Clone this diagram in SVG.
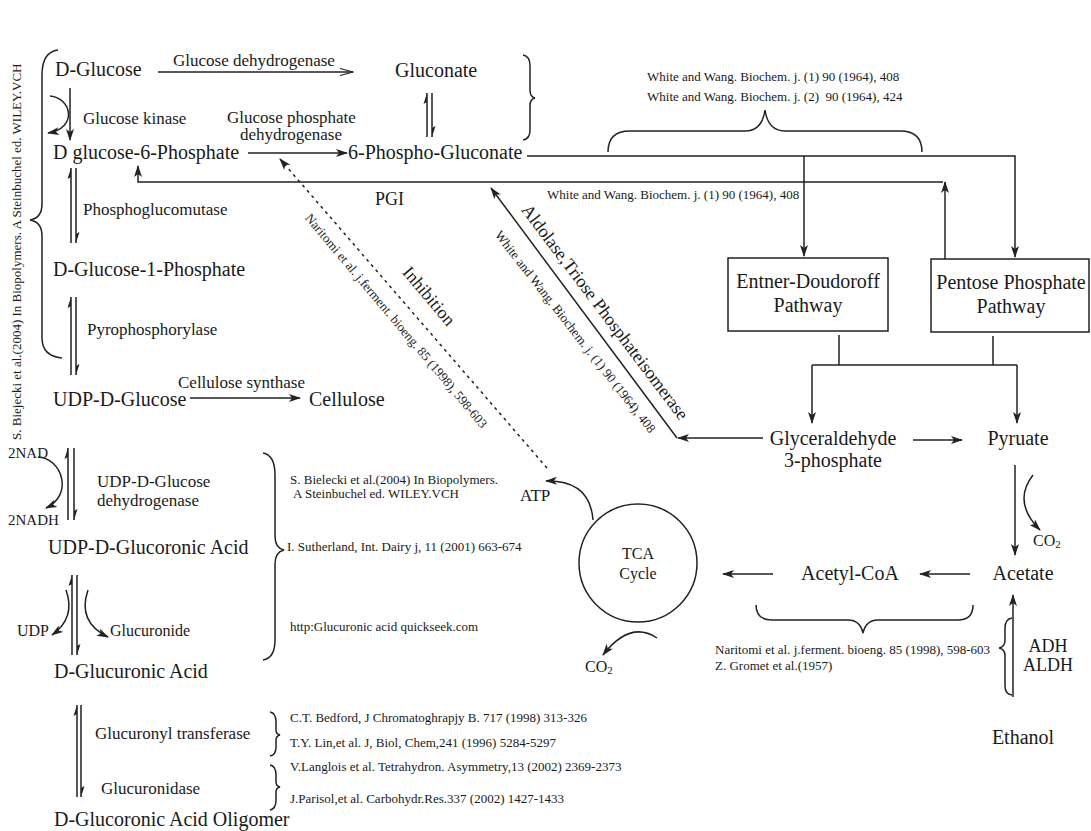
<svg xmlns="http://www.w3.org/2000/svg" width="1091" height="831" viewBox="0 0 1091 831">
<style>
.t{font-family:"Liberation Serif","Times New Roman",serif;fill:#1a1a1a}
.n{font-size:20px}
.l{font-size:17px}
.c{font-size:13px}
.m{text-anchor:middle}
.ln{stroke:#222;stroke-width:1.5;fill:none}
.hd{fill:#222;stroke:none}
</style>
<defs>
<marker id="ah" markerWidth="12" markerHeight="8" refX="11" refY="4" orient="auto" markerUnits="userSpaceOnUse"><path d="M0,0 L12,4 L0,8 L3,4 z" fill="#222"/></marker>
<marker id="oh" markerWidth="14" markerHeight="8" refX="13" refY="4" orient="auto" markerUnits="userSpaceOnUse"><path d="M0,0.5 L13,4 L0,7.5" fill="none" stroke="#222" stroke-width="1.2"/></marker>
</defs>
<rect width="1091" height="831" fill="#fff"/>

<g id="ref-left"><text class="t c" transform="translate(21,440) rotate(-90)">S. Biejecki et al.(2004) In Biopolymers. A Steinbuchel ed. WILEY.VCH</text></g>

<g id="n-dglucose"><text class="t n" x="55" y="76">D-Glucose</text></g>
<g id="n-gluconate"><text class="t n" x="395" y="77">Gluconate</text></g>
<g id="n-g6p"><text class="t n" x="53" y="159">D glucose-6-Phosphate</text></g>
<g id="n-6pg"><text class="t n" x="348" y="159">6-Phospho-Gluconate</text></g>
<g id="n-g1p"><text class="t n" x="53" y="276">D-Glucose-1-Phosphate</text></g>
<g id="n-udpg"><text class="t n" x="53" y="406">UDP-D-Glucose</text></g>
<g id="n-cellulose"><text class="t n" x="309" y="406">Cellulose</text></g>
<g id="n-udpga"><text class="t n" x="48" y="554">UDP-D-Glucoronic Acid</text></g>
<g id="n-dga"><text class="t n" x="54" y="678">D-Glucuronic Acid</text></g>
<g id="n-oligo"><text class="t n" x="54" y="826">D-Glucoronic Acid Oligomer</text></g>

<g id="n-ed"><rect x="728" y="258" width="160" height="73" class="ln"/><text class="t n m" x="808" y="288">Entner-Doudoroff</text><text class="t n m" x="808" y="312">Pathway</text></g>
<g id="n-ppp"><rect x="931" y="259" width="158" height="73" class="ln"/><text class="t n m" x="1011" y="289">Pentose Phosphate</text><text class="t n m" x="1011" y="313">Pathway</text></g>
<g id="n-gap"><text class="t n m" x="833" y="445">Glyceraldehyde</text><text class="t n m" x="833" y="467">3-phosphate</text></g>
<g id="n-pyr"><text class="t n m" x="1018" y="445">Pyruate</text></g>
<g id="n-acetate"><text class="t n m" x="1023" y="580">Acetate</text></g>
<g id="n-acoa"><text class="t n m" x="850" y="580">Acetyl-CoA</text></g>
<g id="n-ethanol"><text class="t n m" x="1023" y="744">Ethanol</text></g>
<g id="n-tca"><circle cx="638" cy="563" r="59" class="ln"/><text class="t m" style="font-size:16px" x="638" y="559">TCA</text><text class="t m" style="font-size:16px" x="638" y="579">Cycle</text></g>
<g id="n-atp"><text class="t" style="font-size:17px" x="520" y="501">ATP</text></g>
<g id="n-co2a"><text class="t" style="font-size:16px" x="585" y="672">CO<tspan style="font-size:11px" dy="2">2</tspan></text></g>
<g id="n-co2b"><text class="t" style="font-size:16px" x="1033" y="546">CO<tspan style="font-size:11px" dy="2">2</tspan></text></g>
<g id="n-nad"><text class="t" style="font-size:15px" x="8" y="458">2NAD</text><text class="t" style="font-size:15px" x="8" y="525">2NADH</text></g>
<g id="n-udp"><text class="t" style="font-size:16px" x="17" y="636">UDP</text><text class="t" style="font-size:16px" x="110" y="636">Glucuronide</text></g>

<g id="labels">
<text class="t l" x="173" y="66">Glucose dehydrogenase</text>
<text class="t l" x="83" y="124">Glucose kinase</text>
<text class="t l" x="227" y="123">Glucose phosphate</text>
<text class="t l" x="240" y="140">dehydrogenase</text>
<text class="t l" x="83" y="215">Phosphoglucomutase</text>
<text class="t l" x="87" y="335">Pyrophosphorylase</text>
<text class="t l" x="178" y="388">Cellulose synthase</text>
<text class="t" style="font-size:18px" x="375" y="205">PGI</text>
<text class="t l" x="97" y="487">UDP-D-Glucose</text>
<text class="t l" x="97" y="506">dehydrogenase</text>
<text class="t l" x="95" y="739">Glucuronyl transferase</text>
<text class="t l" x="101" y="794">Glucuronidase</text>
<text class="t m" style="font-size:18px" x="1048" y="652">ADH</text>
<text class="t m" style="font-size:18px" x="1048" y="671">ALDH</text>
<text class="t" style="font-size:18px" text-anchor="middle" transform="translate(429,296) rotate(50)" y="6">Inhibition</text>
<text class="t" style="font-size:18px" text-anchor="middle" transform="translate(605,312) rotate(53)" y="6">Aldolase,Triose Phosphateisomerase</text>
</g>

<g id="citations">
<text class="t c" x="647" y="81">White and Wang. Biochem. j. (1) 90 (1964), 408</text>
<text class="t c" x="647" y="101" style="white-space:pre">White and Wang. Biochem. j. (2)  90 (1964), 424</text>
<text class="t c" x="547" y="199">White and Wang. Biochem. j. (1) 90 (1964), 408</text>
<text class="t c" text-anchor="middle" transform="translate(396,321) rotate(50)" y="4">Naritomi et al. j.ferment. bioeng. 85 (1998), 598-603</text>
<text class="t c" text-anchor="middle" transform="translate(575,332) rotate(52)" y="4">White and Wang. Biochem. j. (1) 90 (1964), 408</text>
<text class="t c" x="290" y="484">S. Bielecki et al.(2004) In Biopolymers.</text>
<text class="t c" x="293" y="498">A Steinbuchel ed. WILEY.VCH</text>
<text class="t c" x="287" y="551">I. Sutherland, Int. Dairy j, 11 (2001) 663-674</text>
<text class="t c" x="290" y="631">http:Glucuronic acid quickseek.com</text>
<text class="t c" x="715" y="654">Naritomi et al. j.ferment. bioeng. 85 (1998), 598-603</text>
<text class="t c" x="715" y="670">Z. Gromet et al.(1957)</text>
<text class="t c" x="290" y="722">C.T. Bedford, J Chromatoghrapjy B. 717 (1998) 313-326</text>
<text class="t c" x="290" y="747">T.Y. Lin,et al. J, Biol, Chem,241 (1996) 5284-5297</text>
<text class="t c" x="290" y="771">V.Langlois et al. Tetrahydron. Asymmetry,13 (2002) 2369-2373</text>
<text class="t c" x="290" y="803">J.Parisol,et al. Carbohydr.Res.337 (2002) 1427-1433</text>
</g>

<g id="braces" class="ln">
<path d="M58 50 Q42 52 42 75 L42 204 Q42 218 30 220 Q42 222 42 236 L42 338 Q42 356 62 358"/>
<path d="M523 55 Q530 56 530 66 L530 90 Q530 97 535 98 Q530 99 530 106 L530 130 Q530 139 523 140"/>
<path d="M608 152 Q608 131 630 131 H745 Q762 131 765 110 Q768 131 785 131 H900 Q922 131 922 152"/>
<path d="M263 453 Q275 455 275 475 L275 536 Q275 548 284 550 Q275 552 275 564 L275 640 Q275 658 263 660"/>
<path d="M270 712 Q276 713 276 722 V730 Q276 734 280 735 Q276 736 276 740 V747 Q276 755 270 756"/>
<path d="M270 765 Q276 766 276 775 V782 Q276 786 280 787 Q276 788 276 792 V800 Q276 809 270 810"/>
<path d="M756 605 Q756 620 772 620 H848 Q860 620 863 633 Q866 620 878 620 H958 Q973 620 973 605"/>
<path d="M1012 618 Q1005 619 1005 628 V640 Q1005 647 999 648 Q1005 649 1005 656 V686 Q1005 694 1012 695"/>
</g>

<g id="connectors">
<path class="ln" d="M158 72 H353" marker-end="url(#oh)"/>
<path class="ln" d="M70 88 V140" marker-end="url(#ah)"/>
<path class="ln" d="M50 96 C72 98 78 128 48 133" marker-end="url(#ah)"/>
<path class="ln" d="M248 153 H347" marker-end="url(#ah)"/>
<path class="ln" d="M527 156 H1015 V257" marker-end="url(#ah)"/>
<path class="ln" d="M804 156 V256" marker-end="url(#ah)"/>
<path class="ln" d="M945 259 V182" marker-end="url(#ah)"/>
<path class="ln" d="M943 182 H138 V166" marker-end="url(#ah)"/>
<path class="ln" d="M839 335 V365 M993 336 V365"/>
<path class="ln" d="M812 365 H1017"/>
<path class="ln" d="M812 365 V423" marker-end="url(#ah)"/>
<path class="ln" d="M1017 365 V423" marker-end="url(#ah)"/>
<path class="ln" d="M763 438 H678" marker-end="url(#ah)"/>
<path class="ln" d="M677 438 L491 188" marker-end="url(#ah)"/>
<path class="ln" d="M913 440 H962" marker-end="url(#ah)"/>
<path class="ln" d="M1015 465 V555" marker-end="url(#ah)"/>
<path class="ln" d="M1033 475 Q1012 502 1040 530" marker-end="url(#ah)"/>
<path class="ln" d="M970 574 H920" marker-end="url(#ah)"/>
<path class="ln" d="M773 574 H723" marker-end="url(#ah)"/>
<path class="ln" d="M1013 697 V595" marker-end="url(#ah)"/>
<path class="ln" d="M593 520 Q590 480 546 481" marker-end="url(#ah)"/>
<path class="ln" d="M657 638 Q630 620 603 655" marker-end="url(#ah)"/>
<path class="ln" d="M547 468 L280 159" stroke-dasharray="3 4" marker-end="url(#ah)"/>
<path class="ln" d="M190 398 H300" marker-end="url(#ah)"/>
<path class="ln" d="M38 457 C62 458 74 495 46 508" marker-end="url(#ah)"/>
<path class="ln" d="M66 590 Q76 618 52 635" marker-end="url(#ah)"/>
<path class="ln" d="M88 590 Q77 622 108 637" marker-end="url(#ah)"/>
<g id="harpoons">
<path class="ln" d="M427 93 V137 M432 93 V137"/>
<path class="hd" d="M427 93 L423.5 104 L427 102 z M432 137 L435.5 126 L432 128 z"/>
<path class="ln" d="M71 168 V243 M76 168 V243"/>
<path class="hd" d="M71 168 L67.5 179 L71 177 z M76 243 L79.5 232 L76 234 z"/>
<path class="ln" d="M71 297 V375 M76 297 V375"/>
<path class="hd" d="M71 297 L67.5 308 L71 306 z M76 375 L79.5 364 L76 366 z"/>
<path class="ln" d="M68 448 V520 M74 448 V520"/>
<path class="hd" d="M68 448 L64.5 459 L68 457 z M74 520 L77.5 509 L74 511 z"/>
<path class="ln" d="M72 575 V655 M77 575 V655"/>
<path class="hd" d="M72 575 L68.5 586 L72 584 z M77 655 L80.5 644 L77 646 z"/>
<path class="ln" d="M77 705 V797 M81 705 V797"/>
<path class="hd" d="M77 705 L73.5 716 L77 714 z M81 797 L84.5 786 L81 788 z"/>
</g>
</g>
</svg>
